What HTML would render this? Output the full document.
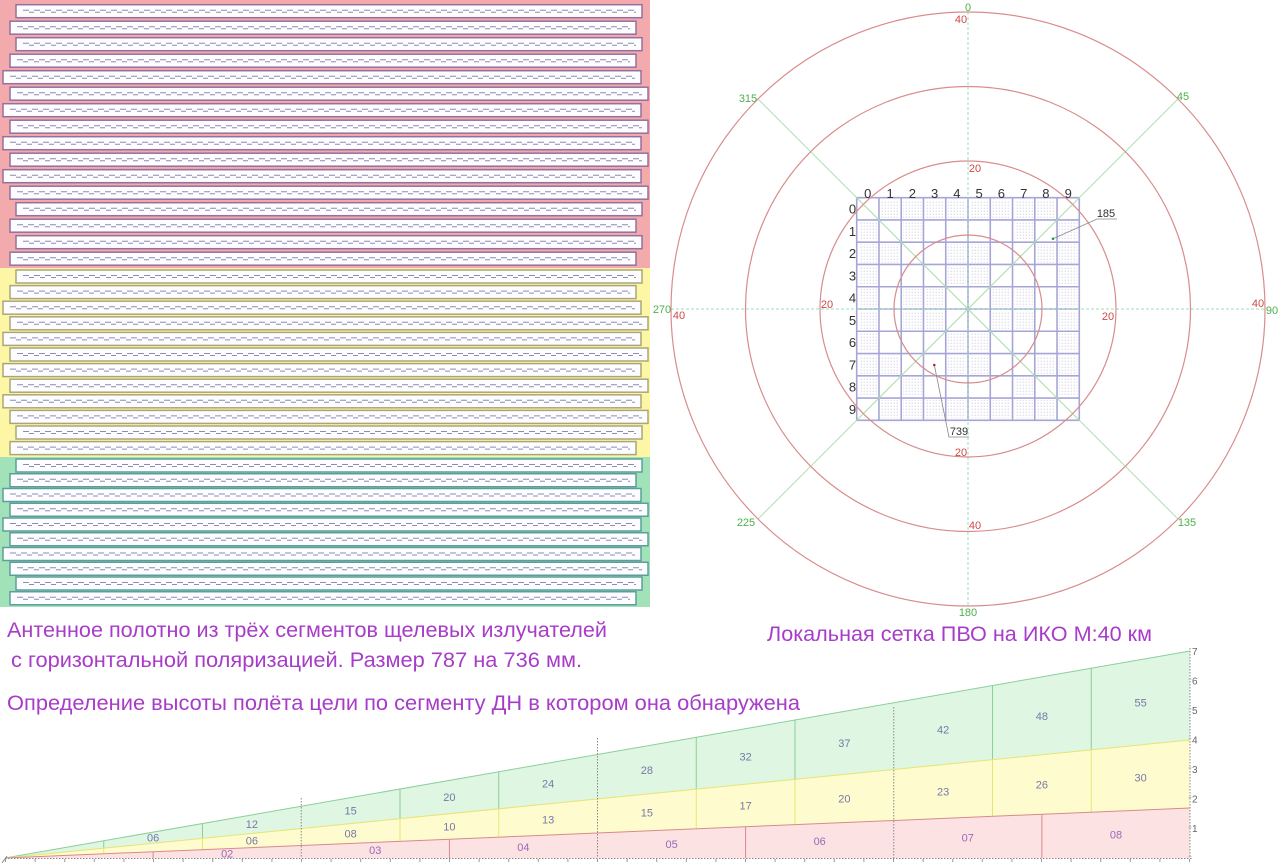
<!DOCTYPE html>
<html><head><meta charset="utf-8"><style>
html,body{margin:0;padding:0;background:#fff;}
svg{display:block;}
.n{font-family:"Liberation Sans Narrow","Liberation Sans",sans-serif;text-anchor:middle;}
.big{font-family:"Liberation Sans","DejaVu Sans",sans-serif;font-size:21px;fill:#a83cc8;}
.d{fill:url(#dots);}
</style></head><body>
<svg width="1280" height="863" viewBox="0 0 1280 863" xmlns="http://www.w3.org/2000/svg">
<defs>
<pattern id="dots" width="3" height="3" patternUnits="userSpaceOnUse"><rect x="1" y="1" width="1" height="1" fill="#c2c2d8"/></pattern>
<g id="S"><rect width="626" height="13" fill="#fdfdff" stroke-width="1.5"/><line x1="7" y1="5.5" x2="620" y2="5.5" stroke="#8c8cb4" stroke-width="1" stroke-dasharray="6 5"/><line x1="13" y1="7.5" x2="620" y2="7.5" stroke="#8c8cb4" stroke-width="1" stroke-dasharray="5 6"/></g>
<g id="L"><rect width="638" height="13" fill="#fdfdff" stroke-width="1.5"/><line x1="7" y1="5.5" x2="632" y2="5.5" stroke="#8c8cb4" stroke-width="1" stroke-dasharray="6 5"/><line x1="13" y1="7.5" x2="632" y2="7.5" stroke="#8c8cb4" stroke-width="1" stroke-dasharray="5 6"/></g>
</defs>

<!-- Antenna panel -->
<rect x="0" y="0" width="650" height="268" fill="#f3aaad"/>
<rect x="0" y="268" width="650" height="189" fill="#fdf6a4"/>
<rect x="0" y="457" width="650" height="150" fill="#a2e2b8"/>
<g stroke="#93709e">
<use href="#S" x="16" y="4.7"/>
<use href="#S" x="10" y="21.2"/>
<use href="#S" x="16" y="37.7"/>
<use href="#S" x="10" y="54.2"/>
<use href="#L" x="3" y="70.7"/>
<use href="#L" x="10" y="87.2"/>
<use href="#L" x="3" y="103.7"/>
<use href="#L" x="10" y="120.2"/>
<use href="#L" x="3" y="136.7"/>
<use href="#L" x="10" y="153.2"/>
<use href="#L" x="3" y="169.7"/>
<use href="#L" x="10" y="186.2"/>
<use href="#S" x="16" y="202.7"/>
<use href="#S" x="10" y="219.2"/>
<use href="#S" x="16" y="235.7"/>
<use href="#S" x="10" y="252.2"/>
</g>
<g stroke="#aaa67c">
<use href="#S" x="16" y="270"/>
<use href="#S" x="10" y="285.6"/>
<use href="#L" x="3" y="301.2"/>
<use href="#L" x="10" y="316.8"/>
<use href="#L" x="3" y="332.4"/>
<use href="#L" x="10" y="348"/>
<use href="#L" x="3" y="363.6"/>
<use href="#L" x="10" y="379.2"/>
<use href="#L" x="3" y="394.8"/>
<use href="#L" x="10" y="410.4"/>
<use href="#S" x="16" y="426"/>
<use href="#S" x="10" y="441.6"/>
</g>
<g stroke="#5c9e9c">
<use href="#S" x="16" y="459"/>
<use href="#S" x="10" y="473.75"/>
<use href="#L" x="3" y="488.5"/>
<use href="#L" x="10" y="503.25"/>
<use href="#L" x="3" y="518"/>
<use href="#L" x="10" y="532.75"/>
<use href="#L" x="3" y="547.5"/>
<use href="#L" x="10" y="562.25"/>
<use href="#S" x="16" y="577"/>
<use href="#S" x="10" y="591.75"/>
</g>

<!-- Polar -->
<g fill="none" stroke-width="1">
<line x1="671" y1="309" x2="1265" y2="309" stroke="#9fdcc0" stroke-dasharray="3 2"/>
<line x1="968" y1="12" x2="968" y2="606" stroke="#9fdcc0" stroke-dasharray="3 2"/>
<line x1="758" y1="99" x2="1178" y2="519" stroke="#b4e0b4"/>
<line x1="1178" y1="99" x2="758" y2="519" stroke="#b4e0b4"/>
</g>
<g transform="translate(856.7,197.7)">
<g>
<!-- r0 -->
<rect class="d" x="24.26" y="2" width="18.26" height="18.26"/><rect class="d" x="46.52" y="2" width="18.26" height="18.26"/><rect class="d" x="68.78" y="2" width="18.26" height="18.26"/><rect class="d" x="91.04" y="2" width="18.26" height="18.26"/><rect class="d" x="113.3" y="2" width="18.26" height="18.26"/><rect class="d" x="135.56" y="2" width="18.26" height="18.26"/><rect class="d" x="157.82" y="2" width="18.26" height="18.26"/><rect class="d" x="180.08" y="2" width="18.26" height="18.26"/>
<!-- r1 -->
<rect class="d" x="2" y="24.26" width="18.26" height="18.26"/><rect class="d" x="46.52" y="24.26" width="18.26" height="18.26"/><rect class="d" x="157.82" y="24.26" width="18.26" height="18.26"/><rect class="d" x="202.34" y="24.26" width="18.26" height="18.26"/>
<!-- r2 -->
<rect class="d" x="2" y="46.52" width="18.26" height="18.26"/><rect class="d" x="24.26" y="46.52" width="18.26" height="18.26"/><rect class="d" x="91.04" y="46.52" width="18.26" height="18.26"/><rect class="d" x="113.3" y="46.52" width="18.26" height="18.26"/><rect class="d" x="180.08" y="46.52" width="18.26" height="18.26"/><rect class="d" x="202.34" y="46.52" width="18.26" height="18.26"/>
<!-- r3 -->
<rect class="d" x="2" y="68.78" width="18.26" height="18.26"/><rect class="d" x="91.04" y="68.78" width="18.26" height="18.26"/><rect class="d" x="113.3" y="68.78" width="18.26" height="18.26"/><rect class="d" x="202.34" y="68.78" width="18.26" height="18.26"/>
<!-- r4 -->
<rect class="d" x="2" y="91.04" width="18.26" height="18.26"/><rect class="d" x="46.52" y="91.04" width="18.26" height="18.26"/><rect class="d" x="68.78" y="91.04" width="18.26" height="18.26"/><rect class="d" x="135.56" y="91.04" width="18.26" height="18.26"/><rect class="d" x="157.82" y="91.04" width="18.26" height="18.26"/><rect class="d" x="202.34" y="91.04" width="18.26" height="18.26"/>
<!-- r5 -->
<rect class="d" x="2" y="113.3" width="18.26" height="18.26"/><rect class="d" x="46.52" y="113.3" width="18.26" height="18.26"/><rect class="d" x="68.78" y="113.3" width="18.26" height="18.26"/><rect class="d" x="135.56" y="113.3" width="18.26" height="18.26"/><rect class="d" x="157.82" y="113.3" width="18.26" height="18.26"/><rect class="d" x="202.34" y="113.3" width="18.26" height="18.26"/>
<!-- r6 -->
<rect class="d" x="2" y="135.56" width="18.26" height="18.26"/><rect class="d" x="91.04" y="135.56" width="18.26" height="18.26"/><rect class="d" x="113.3" y="135.56" width="18.26" height="18.26"/><rect class="d" x="202.34" y="135.56" width="18.26" height="18.26"/>
<!-- r7 -->
<rect class="d" x="2" y="157.82" width="18.26" height="18.26"/><rect class="d" x="24.26" y="157.82" width="18.26" height="18.26"/><rect class="d" x="91.04" y="157.82" width="18.26" height="18.26"/><rect class="d" x="113.3" y="157.82" width="18.26" height="18.26"/><rect class="d" x="180.08" y="157.82" width="18.26" height="18.26"/><rect class="d" x="202.34" y="157.82" width="18.26" height="18.26"/>
<!-- r8 -->
<rect class="d" x="2" y="180.08" width="18.26" height="18.26"/><rect class="d" x="46.52" y="180.08" width="18.26" height="18.26"/><rect class="d" x="157.82" y="180.08" width="18.26" height="18.26"/><rect class="d" x="202.34" y="180.08" width="18.26" height="18.26"/>
<!-- r9 -->
<rect class="d" x="24.26" y="202.34" width="18.26" height="18.26"/><rect class="d" x="46.52" y="202.34" width="18.26" height="18.26"/><rect class="d" x="68.78" y="202.34" width="18.26" height="18.26"/><rect class="d" x="91.04" y="202.34" width="18.26" height="18.26"/><rect class="d" x="113.3" y="202.34" width="18.26" height="18.26"/><rect class="d" x="135.56" y="202.34" width="18.26" height="18.26"/><rect class="d" x="157.82" y="202.34" width="18.26" height="18.26"/><rect class="d" x="180.08" y="202.34" width="18.26" height="18.26"/>
</g>
<path fill="none" stroke="#a6a6d6" stroke-width="1.6" d="M0 0V222.6M22.26 0V222.6M44.52 0V222.6M66.78 0V222.6M89.04 0V222.6M111.3 0V222.6M133.56 0V222.6M155.82 0V222.6M178.08 0V222.6M200.34 0V222.6M222.6 0V222.6M0 0H222.6M0 22.26H222.6M0 44.52H222.6M0 66.78H222.6M0 89.04H222.6M0 111.3H222.6M0 133.56H222.6M0 155.82H222.6M0 178.08H222.6M0 200.34H222.6M0 222.6H222.6"/>
<line x1="0" y1="0" x2="222.6" y2="222.6" stroke="#b4e0b4" stroke-width="1"/>
<line x1="222.6" y1="0" x2="0" y2="222.6" stroke="#b4e0b4" stroke-width="1"/>
<line x1="111.3" y1="0" x2="111.3" y2="222.6" stroke="#9fdcc0" stroke-dasharray="3 2"/>
<line x1="0" y1="111.3" x2="222.6" y2="111.3" stroke="#9fdcc0" stroke-dasharray="3 2"/>
</g>
<g fill="none" stroke="#d98c8c" stroke-width="1.2">
<circle cx="968" cy="309" r="74"/>
<circle cx="968" cy="309" r="148"/>
<circle cx="968" cy="309" r="222.5"/>
<circle cx="968" cy="309" r="297"/>
</g>
<!-- grid labels -->
<g class="n" font-size="13" fill="#333">
<text x="867.8" y="198">0</text><text x="890.1" y="198">1</text><text x="912.4" y="198">2</text><text x="934.6" y="198">3</text><text x="956.9" y="198">4</text><text x="979.1" y="198">5</text><text x="1001.4" y="198">6</text><text x="1023.7" y="198">7</text><text x="1045.9" y="198">8</text><text x="1068.2" y="198">9</text>
<text x="852.5" y="213.5">0</text><text x="852.5" y="235.8">1</text><text x="852.5" y="258">2</text><text x="852.5" y="280.3">3</text><text x="852.5" y="302.5">4</text><text x="852.5" y="324.8">5</text><text x="852.5" y="347">6</text><text x="852.5" y="369.3">7</text><text x="852.5" y="391.6">8</text><text x="852.5" y="413.8">9</text>
</g>
<!-- angle labels -->
<g class="n" font-size="11" fill="#4db04d">
<text x="968" y="11">0</text><text x="1183" y="100">45</text><text x="1272" y="314">90</text><text x="1187" y="526">135</text><text x="968" y="616">180</text><text x="746" y="526">225</text><text x="662" y="313">270</text><text x="748" y="102">315</text>
</g>
<g class="n" font-size="11" fill="#d04848">
<text x="961" y="23">40</text><text x="975" y="172">20</text><text x="827" y="308">20</text><text x="679" y="319">40</text><text x="1108" y="320">20</text><text x="1258" y="307">40</text><text x="961" y="456">20</text><text x="975" y="529">40</text>
</g>
<!-- pointers -->
<g stroke="#888" stroke-width="0.8" fill="none">
<polyline points="1053,238.7 1097,219 1117,219"/>
<polyline points="934.3,365 949,437 969,437"/>
</g>
<circle cx="1053" cy="238.7" r="1.3" fill="#2f9a5a"/>
<circle cx="934.3" cy="365" r="1.3" fill="#b03030"/>
<g class="n" font-size="11" fill="#333">
<text x="1106" y="217">185</text><text x="959" y="435">739</text>
</g>

<!-- Texts -->
<text class="big" x="7" y="637" textLength="600" lengthAdjust="spacingAndGlyphs">Антенное полотно из трёх сегментов щелевых излучателей</text>
<text class="big" x="11" y="667" textLength="571" lengthAdjust="spacingAndGlyphs">с горизонтальной поляризацией. Размер 787 на 736 мм.</text>
<text class="big" x="7" y="710" textLength="793" lengthAdjust="spacingAndGlyphs">Определение высоты полёта цели по сегменту ДН в котором она обнаружена</text>
<text class="big" x="767" y="641" textLength="385" lengthAdjust="spacingAndGlyphs">Локальная сетка ПВО на ИКО М:40 км</text>

<!-- Wedge chart -->
<polygon points="5,858 1190,651 1190,740" fill="#def6e2"/>
<polygon points="5,858 1190,740 1190,808" fill="#fefcce"/>
<polygon points="5,858 1190,808 1190,858" fill="#fde2e4"/>
<g stroke-width="1">
<g stroke="#8ccf98">
<line x1="5" y1="858" x2="1190" y2="651"/>
<line x1="103.75" y1="840.75" x2="103.75" y2="848.16"/>
<line x1="202.5" y1="823.5" x2="202.5" y2="838.33"/>
<line x1="400" y1="789" x2="400" y2="818.66"/>
<line x1="498.75" y1="771.74" x2="498.75" y2="808.82"/>
<line x1="696.25" y1="737.24" x2="696.25" y2="789.15"/>
<line x1="795" y1="719.99" x2="795" y2="779.32"/>
<line x1="992.5" y1="685.49" x2="992.5" y2="759.65"/>
<line x1="1091.25" y1="668.23" x2="1091.25" y2="749.81"/>
</g>
<g stroke="#e6e474">
<line x1="5" y1="858" x2="1190" y2="740"/>
<line x1="103.75" y1="848.16" x2="103.75" y2="853.83"/>
<line x1="202.5" y1="838.33" x2="202.5" y2="849.67"/>
<line x1="400" y1="818.66" x2="400" y2="841.33"/>
<line x1="498.75" y1="808.82" x2="498.75" y2="837.16"/>
<line x1="696.25" y1="789.15" x2="696.25" y2="828.83"/>
<line x1="795" y1="779.32" x2="795" y2="824.66"/>
<line x1="992.5" y1="759.65" x2="992.5" y2="816.33"/>
<line x1="1091.25" y1="749.81" x2="1091.25" y2="812.16"/>
</g>
<g stroke="#d88a8a">
<line x1="5" y1="858" x2="1190" y2="808"/>
<line x1="153.1" y1="851.75" x2="153.1" y2="858"/>
<line x1="449.4" y1="839.25" x2="449.4" y2="858"/>
<line x1="745.6" y1="826.75" x2="745.6" y2="858"/>
<line x1="1041.9" y1="814.24" x2="1041.9" y2="858"/>
</g>
<g stroke="#8a8a8a" stroke-dasharray="1.5 1.5">
<line x1="301.25" y1="798" x2="301.25" y2="858"/>
<line x1="597.5" y1="738" x2="597.5" y2="858"/>
<line x1="893.75" y1="707" x2="893.75" y2="858"/>
<line x1="1190" y1="648" x2="1190" y2="858"/>
<line x1="5" y1="858.5" x2="1192" y2="858.5"/>
</g>
<line x1="5" y1="860.5" x2="1190" y2="860.5" stroke="#999" stroke-width="3" stroke-dasharray="1 28.6"/>
<line x1="2" y1="863" x2="7" y2="856" stroke="#888"/>
<line x1="1190" y1="650" x2="1190" y2="858" stroke="#bbb" stroke-width="3" stroke-dasharray="1 28.6" stroke-dashoffset="1"/>
</g>
<g class="n" font-size="11" fill="#7878a8">
<text x="153.1" y="841.7">06</text><text x="251.9" y="828.1">12</text><text x="350.6" y="814.6">15</text><text x="449.4" y="801.1">20</text><text x="548.1" y="787.5">24</text><text x="646.9" y="774">28</text><text x="745.6" y="760.4">32</text><text x="844.4" y="746.9">37</text><text x="943.1" y="733.3">42</text><text x="1041.9" y="719.8">48</text><text x="1140.6" y="706.3">55</text>
<text x="251.9" y="844.5">06</text><text x="350.6" y="837.5">08</text><text x="449.4" y="830.5">10</text><text x="548.1" y="823.5">13</text><text x="646.9" y="816.5">15</text><text x="745.6" y="809.5">17</text><text x="844.4" y="802.5">20</text><text x="943.1" y="795.5">23</text><text x="1041.9" y="788.5">26</text><text x="1140.6" y="781.5">30</text>
</g>
<g class="n" font-size="11" fill="#9a68b8">
<text x="227.2" y="857.3">02</text><text x="375.3" y="854.2">03</text><text x="523.4" y="851.1">04</text><text x="671.6" y="847.9">05</text><text x="819.7" y="844.8">06</text><text x="967.8" y="841.7">07</text><text x="1116" y="838.6">08</text>
</g>
<g font-family="Liberation Sans Narrow, Liberation Sans, sans-serif" font-size="10" fill="#666">
<text x="1192" y="832">1</text><text x="1192" y="802.5">2</text><text x="1192" y="773">3</text><text x="1192" y="743.5">4</text><text x="1192" y="714">5</text><text x="1192" y="684.5">6</text><text x="1192" y="655">7</text>
</g>
</svg>
</body></html>
